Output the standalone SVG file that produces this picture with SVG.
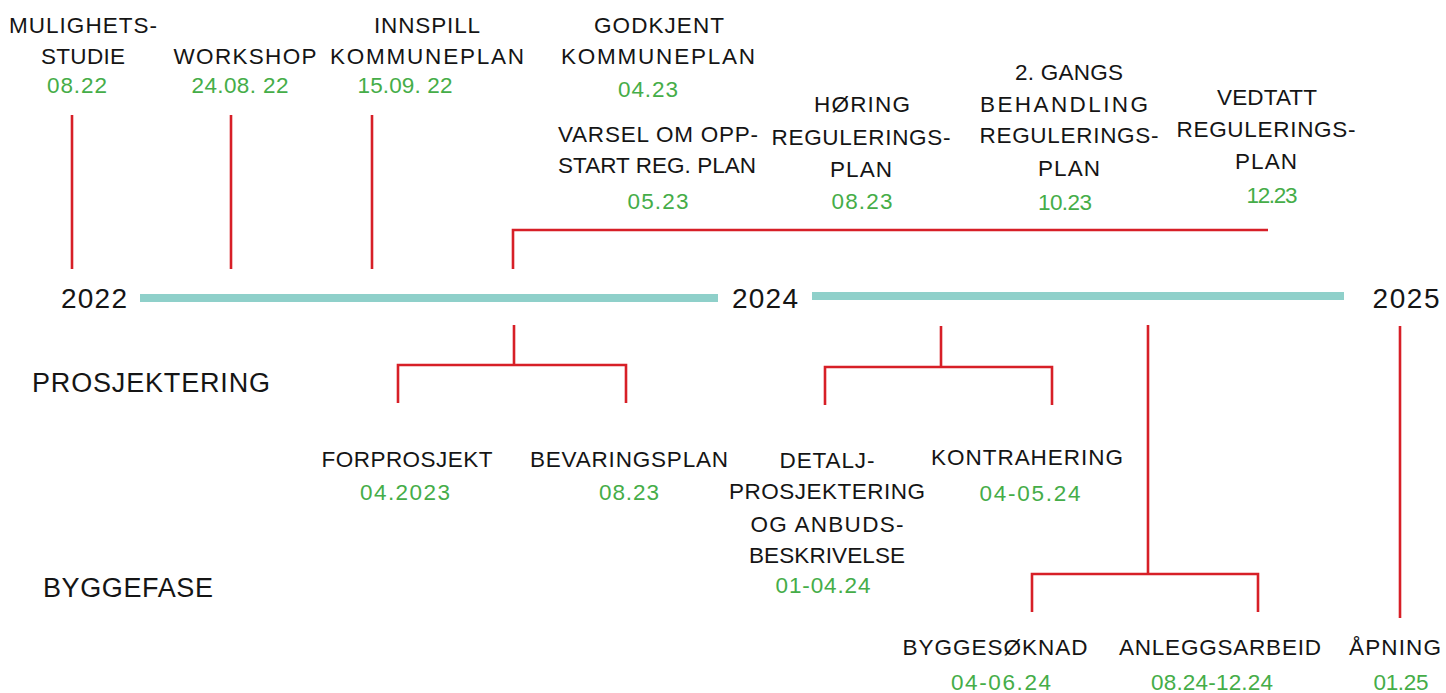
<svg xmlns="http://www.w3.org/2000/svg" width="1446" height="693" viewBox="0 0 1446 693">
<style>
text{font-family:"Liberation Sans",Arial,sans-serif;text-anchor:middle;}
.t{font-size:22.5px;fill:#151515;}
.d{font-size:22.5px;fill:#45ad48;}
.y{font-size:28px;fill:#151515;}
.p{font-size:27px;fill:#151515;}
.c{fill:none;stroke:#d71f27;stroke-width:2.6;stroke-linecap:butt;stroke-linejoin:miter;}
.bar{fill:#8fd0ca;}
</style>
<rect width="1446" height="693" fill="#ffffff"/>
<g id="timeline">
<rect class="bar" x="140" y="294" width="578" height="8"/>
<rect class="bar" x="812" y="292" width="532" height="8"/>
</g>
<g id="connectors">
<path class="c" d="M72 115V269"/>
<path class="c" d="M231 115V269"/>
<path class="c" d="M372 115V269"/>
<path class="c" d="M513 269V230H1268"/>
<path class="c" d="M514 325V365M398 403V365H626V403"/>
<path class="c" d="M941 326V367M825 405V367H1052V405"/>
<path class="c" d="M1148 325V574M1032 612V574H1258V612"/>
<path class="c" d="M1400 326V618"/>
</g>
<g id="year-2022"><text class="y" x="94" y="308" textLength="66">2022</text></g>
<g id="year-2024"><text class="y" x="765" y="308" textLength="66">2024</text></g>
<g id="year-2025"><text class="y" x="1406" y="308" textLength="67">2025</text></g>
<g id="phase-prosjektering"><text class="p" x="151" y="392" textLength="238">PROSJEKTERING</text></g>
<g id="phase-byggefase"><text class="p" x="128" y="597" textLength="170">BYGGEFASE</text></g>
<g id="mulighetsstudie">
<text class="t" x="83" y="33" textLength="148">MULIGHETS-</text>
<text class="t" x="83" y="64" textLength="84">STUDIE</text>
<text class="d" x="77" y="93" textLength="60">08.22</text>
</g>
<g id="workshop">
<text class="t" x="245" y="64" textLength="143">WORKSHOP</text>
<text class="d" x="240" y="93" textLength="97">24.08. 22</text>
</g>
<g id="innspill">
<text class="t" x="427" y="33" textLength="106">INNSPILL</text>
<text class="t" x="427" y="64" textLength="194">KOMMUNEPLAN</text>
<text class="d" x="405" y="93" textLength="95">15.09. 22</text>
</g>
<g id="godkjent">
<text class="t" x="659" y="33" textLength="130">GODKJENT</text>
<text class="t" x="658" y="64" textLength="194">KOMMUNEPLAN</text>
<text class="d" x="648" y="97" textLength="60">04.23</text>
</g>
<g id="varsel">
<text class="t" x="658" y="142" textLength="200">VARSEL OM OPP-</text>
<text class="t" x="657" y="173" textLength="198">START REG. PLAN</text>
<text class="d" x="658" y="209" textLength="61">05.23</text>
</g>
<g id="horing">
<text class="t" x="862" y="112" textLength="96">HØRING</text>
<text class="t" x="861" y="145" textLength="179">REGULERINGS-</text>
<text class="t" x="861" y="177" textLength="62">PLAN</text>
<text class="d" x="862" y="209" textLength="61">08.23</text>
</g>
<g id="andre-gangs">
<text class="t" x="1069" y="80" textLength="108">2. GANGS</text>
<text class="t" x="1064" y="112" textLength="168">BEHANDLING</text>
<text class="t" x="1069" y="143" textLength="179">REGULERINGS-</text>
<text class="t" x="1069" y="176" textLength="62">PLAN</text>
<text class="d" x="1065" y="210" textLength="54">10.23</text>
</g>
<g id="vedtatt">
<text class="t" x="1267" y="105" textLength="100">VEDTATT</text>
<text class="t" x="1266" y="137" textLength="179">REGULERINGS-</text>
<text class="t" x="1266" y="169" textLength="62">PLAN</text>
<text class="d" x="1272" y="203" textLength="51">12.23</text>
</g>
<g id="forprosjekt">
<text class="t" x="407" y="467" textLength="171">FORPROSJEKT</text>
<text class="d" x="405" y="500" textLength="90">04.2023</text>
</g>
<g id="bevaringsplan">
<text class="t" x="629" y="467" textLength="198">BEVARINGSPLAN</text>
<text class="d" x="629" y="500" textLength="60">08.23</text>
</g>
<g id="detaljprosjektering">
<text class="t" x="827" y="468" textLength="95">DETALJ-</text>
<text class="t" x="827" y="499" textLength="196">PROSJEKTERING</text>
<text class="t" x="827" y="532" textLength="153">OG ANBUDS-</text>
<text class="t" x="827" y="563" textLength="156">BESKRIVELSE</text>
<text class="d" x="823" y="593" textLength="95">01-04.24</text>
</g>
<g id="kontrahering">
<text class="t" x="1027" y="465" textLength="192">KONTRAHERING</text>
<text class="d" x="1030" y="501" textLength="101">04-05.24</text>
</g>
<g id="byggesoknad">
<text class="t" x="995" y="655" textLength="185">BYGGESØKNAD</text>
<text class="d" x="1001" y="690" textLength="100">04-06.24</text>
</g>
<g id="anleggsarbeid">
<text class="t" x="1220" y="655" textLength="202">ANLEGGSARBEID</text>
<text class="d" x="1212" y="690" textLength="122">08.24-12.24</text>
</g>
<g id="apning">
<text class="t" x="1395" y="655" textLength="92">ÅPNING</text>
<text class="d" x="1401" y="690" textLength="55">01.25</text>
</g>
</svg>
